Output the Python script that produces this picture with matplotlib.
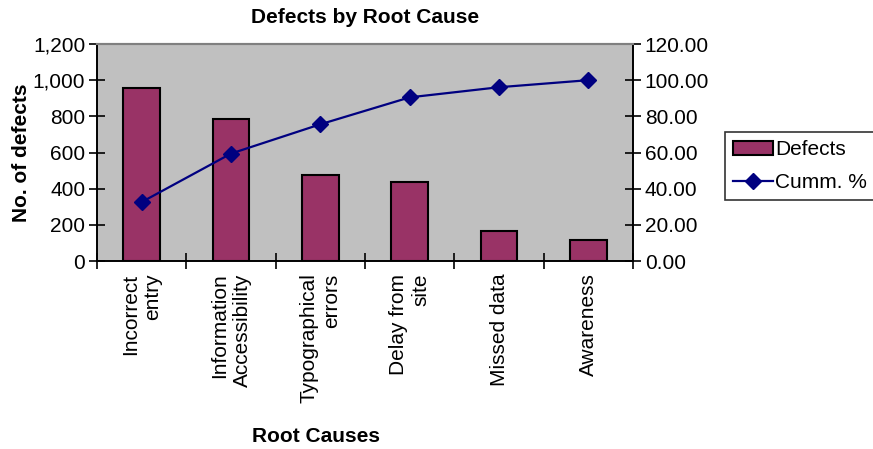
import matplotlib
matplotlib.use("Agg")
import matplotlib.pyplot as plt
from matplotlib.ticker import FuncFormatter, FixedLocator

plt.rcParams['font.family'] = ['Liberation Sans', 'DejaVu Sans']
plt.rcParams['font.size'] = 15

# Root causes and defect counts
causes = ["Incorrect\nentry", "Information\nAccessibility", "Typographical\nerrors",
          "Delay from\nsite", "Missed data", "Awareness"]
defects = [955, 787, 476, 435, 166, 114]
cumm_pct = [32.6, 59.4, 75.6, 90.5, 96.1, 100.0]

bar_color = "#993366"
line_color = "#000080"

fig = plt.figure(figsize=(8.73, 4.49), dpi=100)
ax = fig.add_axes([0.1111, 0.4187, 0.614, 0.4833])
ax.set_facecolor("#C0C0C0")

x = list(range(len(causes)))
ax.bar(x, defects, width=0.41, color=bar_color, edgecolor="black",
       linewidth=1.5, label="Defects", zorder=2)
ax.set_xlim(-0.5, len(causes) - 0.5)
ax.set_ylim(0, 1200)
ax.set_yticks(range(0, 1201, 200))
ax.yaxis.set_major_formatter(FuncFormatter(lambda v, p: f"{v:,.0f}"))

# category labels at centres, tick marks between categories
ax.set_xticks(x)
ax.set_xticklabels(causes, rotation=90, ha="center", va="top",
                   multialignment="right", linespacing=1.25)
ax.tick_params(axis="x", which="major", length=0, pad=9)
ax.xaxis.set_minor_locator(FixedLocator([i - 0.5 for i in range(len(causes) + 1)]))
ax.tick_params(axis="x", which="minor", direction="inout", length=11, width=1.2)
ax.tick_params(axis="y", direction="inout", length=11, width=1.2, pad=3)

ax2 = ax.twinx()
ax2.plot(x, cumm_pct, color=line_color, marker="D", markersize=8,
         linewidth=1.6, label="Cumm. %", zorder=3)
ax2.set_ylim(0, 120)
ax2.set_yticks(range(0, 121, 20))
ax2.yaxis.set_major_formatter(FuncFormatter(lambda v, p: f"{v:.2f}"))
ax2.tick_params(axis="y", direction="inout", length=11, width=1.2, pad=3)

for a in (ax, ax2):
    a.spines["top"].set_color("#808080")
    a.spines["top"].set_linewidth(1.5)
    for s in ("left", "right", "bottom"):
        a.spines[s].set_linewidth(1.2)

ax.set_ylabel("No. of defects", fontweight="bold", labelpad=1)
fig.text(0.418, 0.962, "Defects by Root Cause", ha="center", va="center",
         fontweight="bold")
fig.text(0.362, 0.027, "Root Causes", ha="center", va="center",
         fontweight="bold")

handles = ax.get_legend_handles_labels()[0] + ax2.get_legend_handles_labels()[0]
labels = ["Defects", "Cumm. %"]
leg = fig.legend(handles, labels, loc="upper left",
                 bbox_to_anchor=(725 / 873, 1 - 132 / 449),
                 frameon=True, fancybox=False, edgecolor="black",
                 borderpad=0.4, labelspacing=0.65, handlelength=1.9,
                 handletextpad=0.1, borderaxespad=0)
leg.get_frame().set_linewidth(1.2)

fig.savefig("out.png", dpi=100)
